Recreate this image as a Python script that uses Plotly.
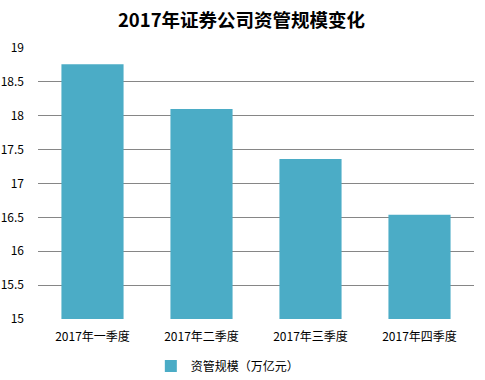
import plotly.graph_objects as go

categories = ["2017年一季度", "2017年二季度", "2017年三季度", "2017年四季度"]
values = [18.76, 18.10, 17.36, 16.54]
series_name = "资管规模（万亿元）"
title = "2017年证券公司资管规模变化"
y_ticks = [15, 15.5, 16, 16.5, 17, 17.5, 18, 18.5, 19]

font_family = "Noto Sans CJK SC, DejaVu Sans, sans-serif"

fig = go.Figure()
fig.add_trace(go.Bar(
    x=categories, y=values, name=series_name,
    marker=dict(color="#4BACC6", line=dict(width=0)),
    showlegend=True,
))

fig.update_layout(
    width=485, height=380,
    margin=dict(l=38, r=11, t=48, b=61, autoexpand=False),
    paper_bgcolor="white", plot_bgcolor="white",
    font=dict(family=font_family, size=12, color="#000000"),
    title=dict(text="<b>" + title + "</b>", x=0.498, xanchor="center",
               y=0.947, yanchor="middle", yref="container",
               font=dict(size=18.5, color="#000000")),
    bargap=0.43,
    legend=dict(orientation="h", x=0.311, xanchor="left", xref="container",
                y=0.037, yanchor="middle", yref="container",
                font=dict(size=12), bgcolor="rgba(0,0,0,0)"),
    xaxis=dict(showgrid=False, showline=False, ticks="", tickfont=dict(size=12),
               ticklabelstandoff=9),
    yaxis=dict(range=[15, 19], tickvals=y_ticks, showgrid=True, gridcolor="#868686",
               gridwidth=1, zeroline=False, showline=False, ticks="",
               tickfont=dict(size=12), ticklabelstandoff=13),
)

# remove the browser's default 8px body margin so the figure fills the window
fig.write_html("out.html", config={"displayModeBar": False},
               post_script="document.body.style.margin='0';")
